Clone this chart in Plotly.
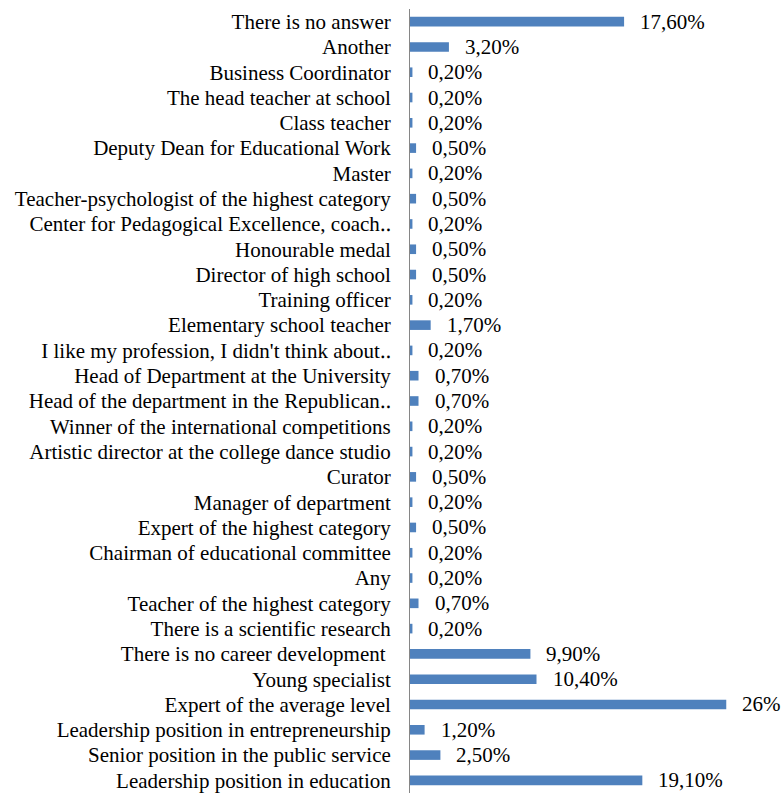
import plotly.graph_objects as go

# Categories listed bottom to top
categories = [
    "Leadership position in education",
    "Senior position in the public service",
    "Leadership position in entrepreneurship",
    "Expert of the average level",
    "Young specialist",
    "There is no career development ",
    "There is a scientific research",
    "Teacher of the highest category",
    "Any",
    "Chairman of educational committee",
    "Expert of the highest category",
    "Manager of department",
    "Curator",
    "Artistic director at the college dance studio",
    "Winner of the international competitions",
    "Head of the department in the Republican\u2025",
    "Head of Department at the University",
    "I like my profession, I didn't think about\u2025",
    "Elementary school teacher",
    "Training officer",
    "Director of high school",
    "Honourable medal",
    "Center for Pedagogical Excellence, coach\u2025",
    "Teacher-psychologist of the highest category",
    "Master",
    "Deputy Dean for Educational Work",
    "Class teacher",
    "The head teacher at school",
    "Business Coordinator",
    "Another",
    "There is no answer",
]

values = [
    19.1, 2.5, 1.2, 26.0, 10.4, 9.9, 0.2, 0.7, 0.2, 0.2, 0.5, 0.2, 0.5, 0.2,
    0.2, 0.7, 0.7, 0.2, 1.7, 0.2, 0.5, 0.5, 0.2, 0.5, 0.2, 0.5, 0.2, 0.2,
    0.2, 3.2, 17.6,
]


def fmt(v):
    if float(v).is_integer():
        return f"{int(v)}%"
    return f"{v:.2f}".replace(".", ",") + "%"


labels = [fmt(v) for v in values]

FONT = "Liberation Serif"
FONT_SIZE = 21
BAR_COLOR = "#4F81BD"

fig = go.Figure(
    go.Bar(
        x=values,
        y=categories,
        orientation="h",
        marker=dict(color=BAR_COLOR, line=dict(width=0)),
        width=0.38,
        hoverinfo="x+y",
    )
)

# value labels to the right of each bar
for cat, v, lab in zip(categories, values, labels):
    fig.add_annotation(
        x=v, y=cat, text=lab, showarrow=False,
        xanchor="left", yanchor="middle", xshift=14,
        font=dict(family=FONT, size=FONT_SIZE, color="#000000"),
    )

fig.update_layout(
    width=781, height=793,
    margin=dict(l=410, r=0, t=9, b=0, pad=0),
    paper_bgcolor="white", plot_bgcolor="white",
    showlegend=False,
    font=dict(family=FONT, size=FONT_SIZE, color="#000000"),
    xaxis=dict(range=[0, 30.5], visible=False, showgrid=False, zeroline=False),
    yaxis=dict(
        type="category",
        categoryorder="array", categoryarray=categories,
        tickmode="array", tickvals=categories, ticktext=categories,
        range=[-0.5, len(categories) - 0.5],
        showline=True, linecolor="#868686", linewidth=1,
        ticks="", ticklabelstandoff=14, showgrid=False,
        tickfont=dict(family=FONT, size=FONT_SIZE, color="#000000"),
    ),
)

fig.write_html("out.html")
